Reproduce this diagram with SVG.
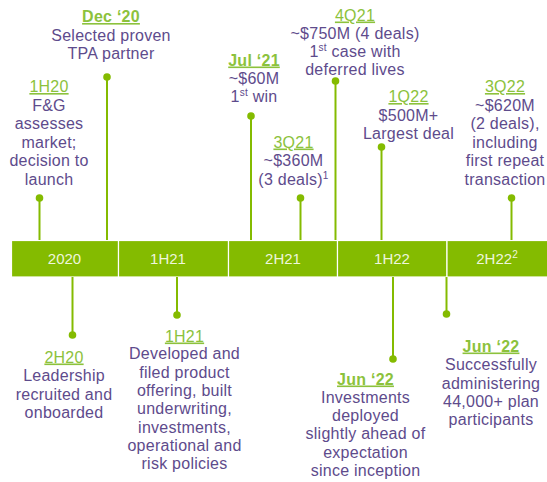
<svg xmlns="http://www.w3.org/2000/svg" width="547" height="482" viewBox="0 0 547 482">
<style>
.t{font-family:"Liberation Sans",Arial,sans-serif;font-size:16px;fill:#5E4B8C;text-anchor:middle;letter-spacing:0.25px}
.h{fill:#8CC23C;text-decoration:underline}
.b{font-weight:bold}
.bar{fill:#84BB00;stroke:#FFFFFF;stroke-width:1.2}
.bt{font-family:"Liberation Sans",Arial,sans-serif;font-size:15px;fill:#EEF6DC;text-anchor:middle}
.ln{stroke:#84BB00;stroke-width:2;fill:none}
.dot{fill:#84BB00}
.sup{font-size:10px}
</style>
<g id="timeline">
<rect class="bar" x="11.5" y="240.5" width="107" height="36.5"/>
<rect class="bar" x="118.5" y="240.5" width="110" height="36.5"/>
<rect class="bar" x="228.5" y="240.5" width="109" height="36.5"/>
<rect class="bar" x="337.5" y="240.5" width="109.5" height="36.5"/>
<rect class="bar" x="447" y="240.5" width="110" height="36.5"/>
<text class="bt" x="64.5" y="264">2020</text>
<text class="bt" x="168" y="264">1H21</text>
<text class="bt" x="283" y="264">2H21</text>
<text class="bt" x="392" y="264">1H22</text>
<text class="bt" x="497" y="264">2H22<tspan class="sup" dy="-6">2</tspan></text>
</g>
<g id="connectors">
<line class="ln" x1="39.5" y1="198" x2="39.5" y2="240"/>
<line class="ln" x1="107" y1="77" x2="107" y2="240"/>
<line class="ln" x1="251" y1="116" x2="251" y2="240"/>
<line class="ln" x1="300.5" y1="198" x2="300.5" y2="240"/>
<line class="ln" x1="335.5" y1="81" x2="335.5" y2="240"/>
<line class="ln" x1="381.5" y1="147" x2="381.5" y2="240"/>
<line class="ln" x1="511.5" y1="198" x2="511.5" y2="240"/>
<line class="ln" x1="72.5" y1="277" x2="72.5" y2="335"/>
<line class="ln" x1="177" y1="277" x2="177" y2="315"/>
<line class="ln" x1="393" y1="277" x2="393" y2="359"/>
<line class="ln" x1="446.5" y1="277" x2="446.5" y2="314"/>
<circle class="dot" cx="39.5" cy="198" r="3.8"/>
<circle class="dot" cx="107" cy="77" r="3.8"/>
<circle class="dot" cx="251" cy="116" r="3.8"/>
<circle class="dot" cx="300.5" cy="198" r="3.8"/>
<circle class="dot" cx="335.5" cy="81" r="3.8"/>
<circle class="dot" cx="381.5" cy="147" r="3.8"/>
<circle class="dot" cx="511.5" cy="198" r="3.8"/>
<circle class="dot" cx="72.5" cy="335" r="3.8"/>
<circle class="dot" cx="177" cy="315" r="3.8"/>
<circle class="dot" cx="393" cy="359" r="3.8"/>
<circle class="dot" cx="446.5" cy="314" r="3.8"/>
</g>
<g id="n1H20">
<text class="t h" x="49" y="92">1H20</text>
<text class="t" x="49" y="110.5">F&amp;G</text>
<text class="t" x="49" y="129">assesses</text>
<text class="t" x="49" y="147.5">market;</text>
<text class="t" x="49" y="166">decision to</text>
<text class="t" x="49" y="184.5">launch</text>
</g>
<g id="nDec20">
<text class="t h b" x="111" y="22">Dec ‘20</text>
<text class="t" x="111" y="40.5">Selected proven</text>
<text class="t" x="111" y="59">TPA partner</text>
</g>
<g id="nJul21">
<text class="t h b" x="254" y="65.5">Jul ‘21</text>
<text class="t" x="254" y="83.5">~$60M</text>
<text class="t" x="254" y="101.5">1<tspan class="sup" dy="-6">st</tspan><tspan dy="6"> win</tspan></text>
</g>
<g id="n3Q21">
<text class="t h" x="293.5" y="147.5">3Q21</text>
<text class="t" x="293.5" y="166">~$360M</text>
<text class="t" x="293.5" y="184.5">(3 deals)<tspan class="sup" dy="-6">1</tspan></text>
</g>
<g id="n4Q21">
<text class="t h" x="355" y="20.5">4Q21</text>
<text class="t" x="355" y="38.5">~$750M (4 deals)</text>
<text class="t" x="355" y="56.5">1<tspan class="sup" dy="-6">st</tspan><tspan dy="6"> case with</tspan></text>
<text class="t" x="355" y="74.5">deferred lives</text>
</g>
<g id="n1Q22">
<text class="t h" x="408.5" y="102">1Q22</text>
<text class="t" x="408.5" y="120.5">$500M+</text>
<text class="t" x="408.5" y="138.5">Largest deal</text>
</g>
<g id="n3Q22">
<text class="t h" x="505" y="92">3Q22</text>
<text class="t" x="505" y="110.5">~$620M</text>
<text class="t" x="505" y="129">(2 deals),</text>
<text class="t" x="505" y="147.5">including</text>
<text class="t" x="505" y="166">first repeat</text>
<text class="t" x="505" y="184.5">transaction</text>
</g>
<g id="n2H20">
<text class="t h" x="64" y="362.5">2H20</text>
<text class="t" x="64" y="381">Leadership</text>
<text class="t" x="64" y="399.5">recruited and</text>
<text class="t" x="64" y="418">onboarded</text>
</g>
<g id="n1H21">
<text class="t h" x="184.5" y="341.5">1H21</text>
<text class="t" x="184.5" y="359">Developed and</text>
<text class="t" x="184.5" y="377.5">filed product</text>
<text class="t" x="184.5" y="396">offering, built</text>
<text class="t" x="184.5" y="414">underwriting,</text>
<text class="t" x="184.5" y="432.5">investments,</text>
<text class="t" x="184.5" y="450.5">operational and</text>
<text class="t" x="184.5" y="469">risk policies</text>
</g>
<g id="nJun22a">
<text class="t h b" x="365.5" y="384.5">Jun ‘22</text>
<text class="t" x="365.5" y="402.5">Investments</text>
<text class="t" x="365.5" y="421">deployed</text>
<text class="t" x="365.5" y="439">slightly ahead of</text>
<text class="t" x="365.5" y="457.5">expectation</text>
<text class="t" x="365.5" y="476">since inception</text>
</g>
<g id="nJun22b">
<text class="t h b" x="491" y="351.5">Jun ‘22</text>
<text class="t" x="491" y="370">Successfully</text>
<text class="t" x="491" y="388.5">administering</text>
<text class="t" x="491" y="406.5">44,000+ plan</text>
<text class="t" x="491" y="425">participants</text>
</g>
</svg>
